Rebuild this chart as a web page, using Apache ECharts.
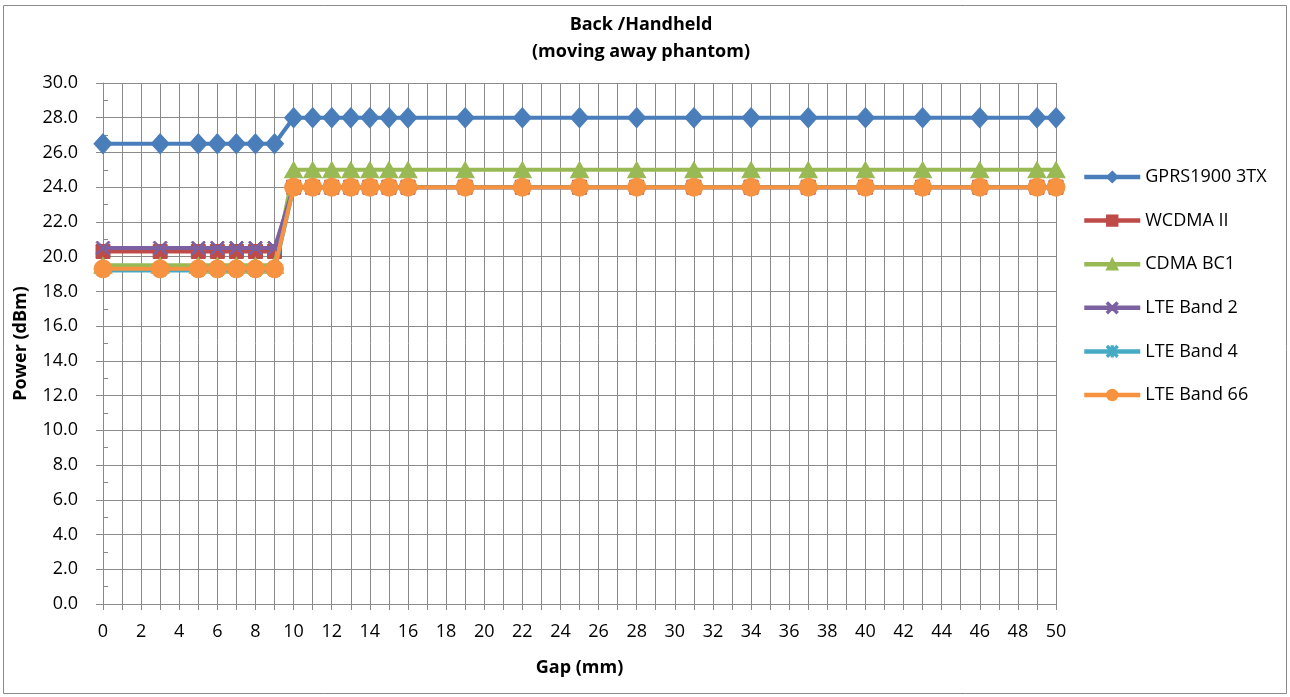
<!DOCTYPE html>
<html>
<head>
<meta charset="utf-8">
<script src="https://cdn.jsdelivr.net/npm/echarts@6/dist/echarts.min.js"></script>
<style>
html,body{margin:0;padding:0;background:#fff;}
#c{width:1290px;height:697px;}
</style>
</head>
<body>
<div id="c"></div>
<script>
const titleLines = ["Back /Handheld", "(moving away phantom)"];
const gaps = [0,3,5,6,7,8,9,10,11,12,13,14,15,16,19,22,25,28,31,34,37,40,43,46,49,50];
const seriesNames = ["GPRS1900 3TX","WCDMA II","CDMA BC1","LTE Band 2","LTE Band 4","LTE Band 66"];
const gprs1900 = [26.5,26.5,26.5,26.5,26.5,26.5,26.5,28,28,28,28,28,28,28,28,28,28,28,28,28,28,28,28,28,28,28];
const wcdmaII  = [20.3,20.3,20.3,20.3,20.3,20.3,20.3,24,24,24,24,24,24,24,24,24,24,24,24,24,24,24,24,24,24,24];
const cdmaBC1  = [19.5,19.5,19.5,19.5,19.5,19.5,19.5,25,25,25,25,25,25,25,25,25,25,25,25,25,25,25,25,25,25,25];
const lteBand2 = [20.5,20.5,20.5,20.5,20.5,20.5,20.5,24,24,24,24,24,24,24,24,24,24,24,24,24,24,24,24,24,24,24];
const lteBand4 = [19.2,19.2,19.2,19.2,19.2,19.2,19.2,24,24,24,24,24,24,24,24,24,24,24,24,24,24,24,24,24,24,24];
const lteBand66= [19.3,19.3,19.3,19.3,19.3,19.3,19.3,24,24,24,24,24,24,24,24,24,24,24,24,24,24,24,24,24,24,24];
const xAxisName = "Gap (mm)";
const yAxisName = "Power (dBm)";

const allValues = [gprs1900, wcdmaII, cdmaBC1, lteBand2, lteBand4, lteBand66];
const colors = ["#4A7EBB","#BE4B48","#98B954","#7D60A0","#46AAC5","#F69240"];
const symbols = [
  "diamond",
  "rect",
  "triangle",
  "path://M0,1L1,0L5,4L9,0L10,1L6,5L10,9L9,10L5,6L1,10L0,9L4,5Z",
  "path://M0,1L1,0L10,9L9,10Z M10,1L9,0L0,9L1,10Z M4.4,0L5.6,0L5.6,10L4.4,10Z",
  "circle"
];
const symbolSizes = [[18,20],14,[18,16],14,12,18];

const FONT = "Open Sans";
const FS = 18;
const chart = echarts.init(document.getElementById('c'), null, {renderer:'canvas'});

const series = seriesNames.map((name, i) => ({
  name: name,
  type: 'line',
  data: gaps.map((g, j) => [g, allValues[i][j]]),
  symbol: symbols[i],
  symbolSize: symbolSizes[i],
  showAllSymbol: true,
  lineStyle: {width: 4, color: colors[i]},
  itemStyle: {color: colors[i], borderColor: colors[i], borderWidth: 1},
  emphasis: {disabled: true},
  z: 2 + i
}));

chart.setOption({
  animation: false,
  color: colors,
  title: {
    text: titleLines.join('\n'),
    left: 636,
    textAlign: 'center',
    top: 6,
    textStyle: {fontFamily: FONT, fontSize: FS, fontWeight: 'bold', color: '#000', lineHeight: 27}
  },
  graphic: [{
    type: 'rect',
    shape: {x: 3.5, y: 5.5, width: 1283, height: 688},
    style: {fill: 'none', stroke: '#8a8a8a', lineWidth: 1},
    silent: true, z: -10
  }],
  legend: {
    orient: 'vertical',
    left: 1077,
    top: 163,
    itemWidth: 56,
    itemHeight: 13,
    itemGap: 25.6,
    lineStyle: {width: 4.5},
    textStyle: {fontFamily: FONT, fontSize: FS, color: '#000'},
    data: seriesNames
  },
  grid: {left: 103, top: 83, width: 953, height: 521, containLabel: false},
  xAxis: {
    type: 'value',
    min: 0, max: 50, interval: 1,
    name: xAxisName,
    nameLocation: 'middle',
    nameGap: 55,
    nameTextStyle: {fontFamily: FONT, fontSize: FS, fontWeight: 'bold', color: '#000'},
    axisLine: {show: true, lineStyle: {color: '#8a8a8a', width: 1}},
    axisTick: {show: true, length: 6, lineStyle: {color: '#8a8a8a'}},
    axisLabel: {
      fontFamily: FONT, fontSize: FS, color: '#000', margin: 19,
      formatter: v => (v % 2 === 0 ? String(v) : '')
    },
    splitLine: {show: true, lineStyle: {color: '#8a8a8a', width: 1}}
  },
  yAxis: [{
    type: 'value',
    min: 0, max: 30, interval: 2,
    name: yAxisName,
    nameLocation: 'middle',
    nameGap: 73,
    nameRotate: 90,
    nameTextStyle: {fontFamily: FONT, fontSize: FS, fontWeight: 'bold', color: '#000'},
    axisLine: {show: true, lineStyle: {color: '#8a8a8a', width: 1}},
    axisTick: {show: true, length: 7, lineStyle: {color: '#8a8a8a'}},
    axisLabel: {fontFamily: FONT, fontSize: FS, color: '#000', margin: 25, formatter: v => v.toFixed(1)},
    splitLine: {show: true, lineStyle: {color: '#8a8a8a', width: 1}}
  }, {
    type: 'value',
    position: 'left',
    min: 0, max: 30, interval: 2,
    axisLine: {show: false},
    axisTick: {show: false, inside: true},
    minorTick: {show: true, splitNumber: 2, length: 5, lineStyle: {color: '#8a8a8a'}},
    axisLabel: {show: false},
    splitLine: {show: false}
  }],
  series: series
});
</script>
</body>
</html>
